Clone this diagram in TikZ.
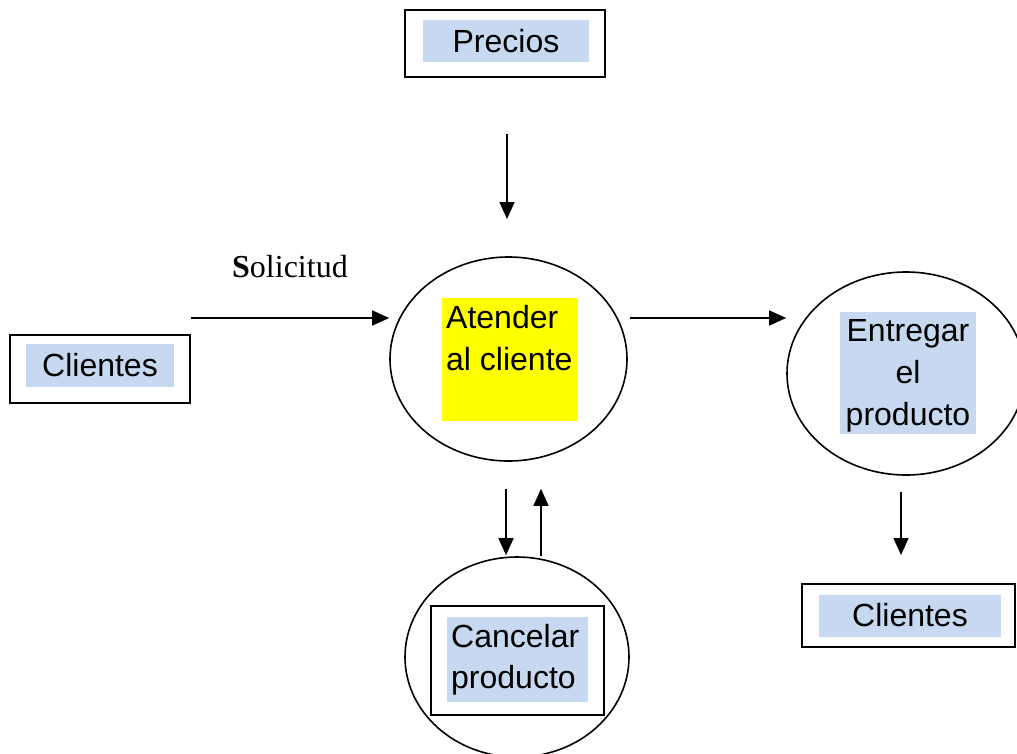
\documentclass[tikz,border=0pt]{standalone}
\usepackage{fontspec}
\setmainfont{Liberation Sans}
\newfontfamily\serifface{Liberation Serif}
\usetikzlibrary{arrows.meta,shapes.geometric,calc}
\definecolor{paleblue}{HTML}{C6D9F0}
\definecolor{brightyellow}{HTML}{FFFF00}
\begin{document}
\begin{tikzpicture}[x=1pt,y=-1pt,
  every node/.style={font=\fontsize{32}{42}\selectfont, inner sep=0pt},
  framebox/.style={draw, line width=2pt, rectangle},
  labelbox/.style={fill=paleblue, rectangle, align=center},
  process/.style={draw, ellipse, line width=1.6pt},
  flow/.style={line width=1.5pt, -{Triangle[length=17pt,width=15pt]}}]
\useasboundingbox (0,0) rectangle (1017,753);

% external entities
\node[framebox, minimum width=200pt, minimum height=67pt] (precios) at (505,43.5) {};
\node[labelbox, minimum width=166pt, minimum height=42pt] (preciosT) at (506,41) {\raisebox{1pt}{Precios}};

\node[framebox, minimum width=180pt, minimum height=68pt] (clientesA) at (100,369) {};
\node[labelbox, minimum width=148pt, minimum height=43pt] (clientesAT) at (100,365.5) {\raisebox{2pt}{Clientes}};

\node[framebox, minimum width=213pt, minimum height=63pt] (clientesB) at (908.5,615.5) {};
\node[labelbox, minimum width=182pt, minimum height=42pt] (clientesBT) at (910,616) {\raisebox{2pt}{Clientes}};

% processes
\node[process, minimum width=237pt, minimum height=204pt] (atender) at (508.5,359) {};
\node[fill=brightyellow, minimum width=136pt, minimum height=123pt] (atenderT) at (510,359.5) {};
\node[anchor=north west, align=left] (atenderL) at (446,305) {Atender\\al cliente};

\node[process, minimum width=238pt, minimum height=203pt] (entregar) at (906,373.5) {};
\node[labelbox, minimum width=136pt, minimum height=122pt] (entregarT) at (908,373) {};
\node[anchor=north, align=center] (entregarL) at (908,319) {Entregar\\el\\producto};

\node[process, minimum width=224pt, minimum height=200pt] (cancelar) at (517,657) {};
\node[framebox, minimum width=173pt, minimum height=109pt] (cancelarF) at (517.5,660.5) {};
\node[labelbox, minimum width=141pt, minimum height=85pt] (cancelarT) at (517.5,659.5) {};
\node[anchor=north west, align=left, font=\fontsize{32}{41}\selectfont] (cancelarL) at (451,624) {Cancelar\\producto};

% data flow label
\node[anchor=base west, font=\fontsize{32}{38}\serifface] (solicitud) at (232,277) {\textbf{S}olicitud};

% flow end points
\coordinate (solStart) at ($(clientesA.north east)+(0,-16)$);
\coordinate (solEnd) at (atender.west |- solStart);
\coordinate (outStart) at ($(atender.east |- solStart)+(2,0)$);
\coordinate (outEnd) at (entregar.west |- solStart);
\coordinate (prStart) at ($(precios.south)+(2,56)$);
\coordinate (prEnd) at ($(precios.south)+(2,141)$);
\coordinate (dnStart) at ($(atender.south)+(-2.5,27)$);
\coordinate (dnEnd) at ($(cancelar.north)+(-11,-1)$);
\coordinate (upStart) at ($(cancelar.north)+(24,0)$);
\coordinate (upEnd) at ($(atender.south)+(32.5,27)$);
\coordinate (enStart) at ($(entregar.south)+(-5,16)$);
\coordinate (enEnd) at ($(clientesB.north)+(-7.5,-28)$);

% data flows
\draw[flow] (solStart) -- (solEnd);
\draw[flow] (outStart) -- (outEnd);
\draw[flow] (prStart) -- (prEnd);
\draw[flow] (dnStart) -- (dnEnd);
\draw[flow] (upStart) -- (upEnd);
\draw[flow] (enStart) -- (enEnd);
\end{tikzpicture}
\end{document}
